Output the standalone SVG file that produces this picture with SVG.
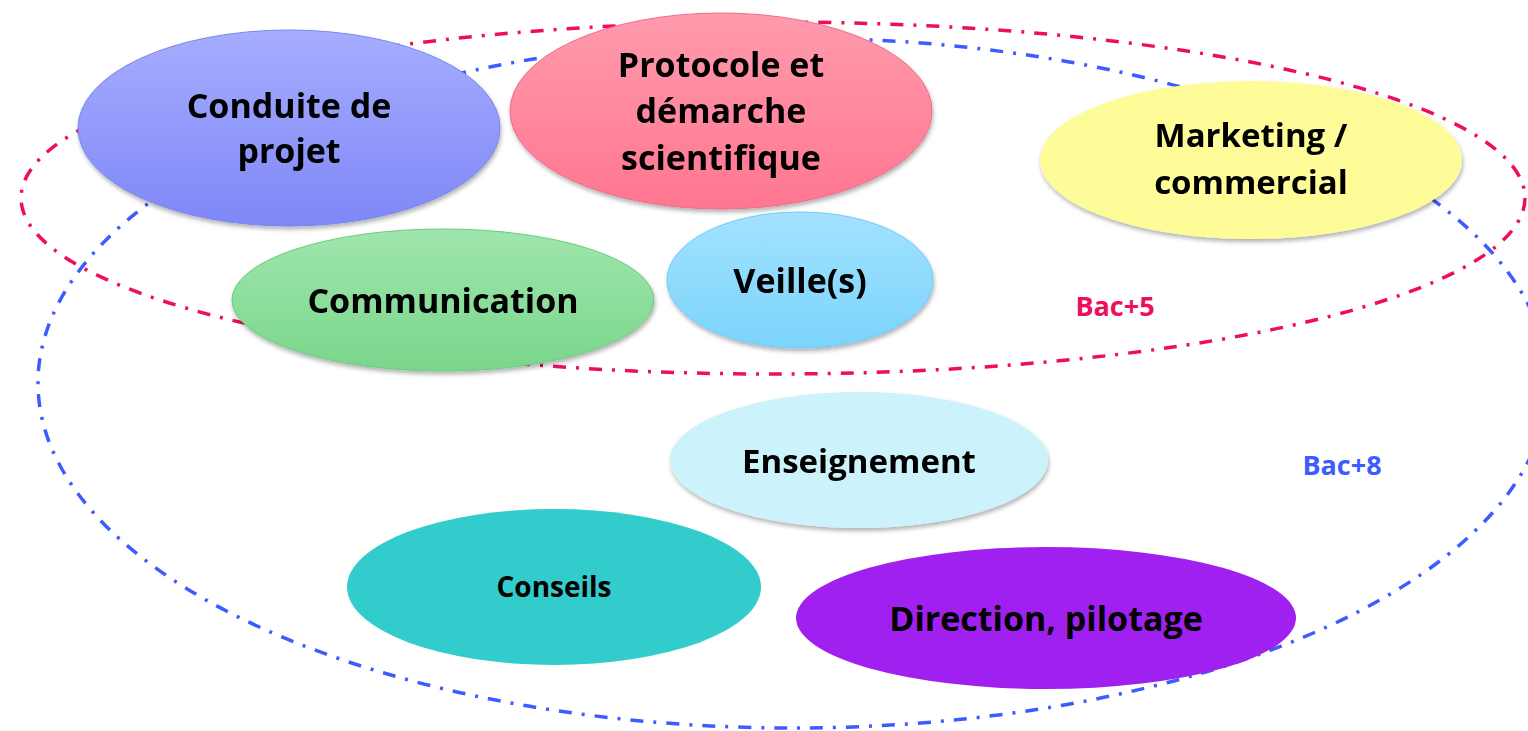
<svg xmlns="http://www.w3.org/2000/svg" width="1528" height="731" viewBox="0 0 1528 731">
  <defs>
    <style>
      .lbl { font-family: "Open Sans", "Noto Sans", "Liberation Sans", sans-serif; font-weight: 700; fill: #000; text-anchor: middle; }
      .zone { fill: none; stroke-width: 3.5; stroke-dasharray: 13 10 3 10; }
      .tag { font-family: "Open Sans", "Noto Sans", "Liberation Sans", sans-serif; font-weight: 700; font-size: 27px; text-anchor: middle; }
    </style>
    <filter id="shadow" x="-10%" y="-10%" width="120%" height="130%">
      <feDropShadow dx="1" dy="3" stdDeviation="2" flood-color="#000" flood-opacity="0.3"/>
    </filter>
    <linearGradient id="gBlue" x1="0" y1="0" x2="0" y2="1">
      <stop offset="0" stop-color="#A6ADFF"/>
      <stop offset="1" stop-color="#7E87F7"/>
    </linearGradient>
    <linearGradient id="gPink" x1="0" y1="0" x2="0" y2="1">
      <stop offset="0" stop-color="#FF9BAD"/>
      <stop offset="1" stop-color="#FF7690"/>
    </linearGradient>
    <linearGradient id="gGreen" x1="0" y1="0" x2="0" y2="1">
      <stop offset="0" stop-color="#9FE6AE"/>
      <stop offset="1" stop-color="#7AD68B"/>
    </linearGradient>
    <linearGradient id="gSky" x1="0" y1="0" x2="0" y2="1">
      <stop offset="0" stop-color="#A2E2FF"/>
      <stop offset="1" stop-color="#7BD4FB"/>
    </linearGradient>
  </defs>

  <rect width="1528" height="731" fill="#FFFFFF"/>

  <!-- level zones -->
  <g id="connectors">
    <ellipse class="zone" cx="773" cy="198" rx="752" ry="176" stroke="#EE0E5C"/>
    <ellipse class="zone" cx="793" cy="383" rx="755" ry="345" stroke="#3D5CFF"/>
  </g>

  <g id="node-conduite" filter="url(#shadow)">
    <ellipse cx="289" cy="128" rx="211" ry="98" fill="url(#gBlue)" stroke="#7A84F0" stroke-width="1"/>
    <text class="lbl" x="289" y="118" font-size="34">Conduite de</text>
    <text class="lbl" x="289" y="163" font-size="34">projet</text>
  </g>

  <g id="node-protocole" filter="url(#shadow)">
    <ellipse cx="721" cy="111" rx="211" ry="98" fill="url(#gPink)" stroke="#F06A85" stroke-width="1"/>
    <text class="lbl" x="721" y="77" font-size="34">Protocole et</text>
    <text class="lbl" x="721" y="123" font-size="34">démarche</text>
    <text class="lbl" x="721" y="170" font-size="34">scientifique</text>
  </g>

  <g id="node-marketing" filter="url(#shadow)">
    <ellipse cx="1251" cy="160" rx="211" ry="79" fill="#FEFC98"/>
    <text class="lbl" x="1251" y="147" font-size="33">Marketing /</text>
    <text class="lbl" x="1251" y="194" font-size="33">commercial</text>
  </g>

  <g id="node-communication" filter="url(#shadow)">
    <ellipse cx="443" cy="300" rx="211" ry="71" fill="url(#gGreen)" stroke="#6CCB7E" stroke-width="1"/>
    <text class="lbl" x="443" y="313" font-size="34">Communication</text>
  </g>

  <g id="node-veille" filter="url(#shadow)">
    <ellipse cx="800" cy="280" rx="133" ry="68" fill="url(#gSky)" stroke="#6CCCF5" stroke-width="1"/>
    <text class="lbl" x="800" y="293" font-size="34">Veille(s)</text>
  </g>

  <g id="node-enseignement" filter="url(#shadow)">
    <ellipse cx="859" cy="460" rx="189" ry="68" fill="#CCF2FC"/>
    <text class="lbl" x="859" y="473" font-size="33">Enseignement</text>
  </g>

  <g id="node-conseils">
    <ellipse cx="554" cy="587" rx="207" ry="78" fill="#33CCCC"/>
    <text class="lbl" x="554" y="597" font-size="28">Conseils</text>
  </g>

  <g id="node-direction">
    <ellipse cx="1046" cy="618" rx="250" ry="71" fill="#A020F0"/>
    <text class="lbl" x="1046" y="631" font-size="34">Direction, pilotage</text>
  </g>

  <g id="labels">
    <text class="tag" x="1115" y="316" fill="#EE0E5C">Bac+5</text>
    <text class="tag" x="1342" y="475" fill="#3D5CFF">Bac+8</text>
  </g>
</svg>
